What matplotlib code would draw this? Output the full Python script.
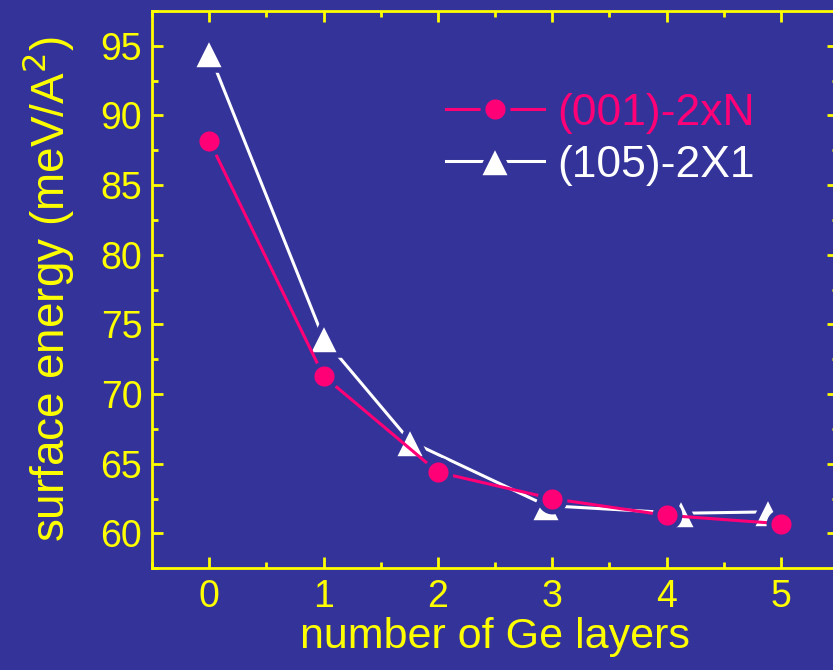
import matplotlib.pyplot as plt
from matplotlib.markers import MarkerStyle
from matplotlib.ticker import MultipleLocator

# surface energy vs. Ge coverage
x_001 = [0, 1, 2, 3, 4, 5]
e_001 = [88.2, 71.3, 64.4, 62.5, 61.3, 60.7]
x_105 = [0, 1, 1.76, 2.95, 4.13, 4.89]
e_105 = [94.5, 74.0, 66.6, 62.0, 61.45, 61.55]

bg = '#333399'
yellow = '#ffff00'
pink = '#ff0077'

plt.rcParams['font.family'] = ['Liberation Sans', 'DejaVu Sans']

fig = plt.figure(figsize=(8.33, 6.7), dpi=100, facecolor=bg)
ax = fig.add_axes([0.1825, 0.1518, 0.8235, 0.8318], facecolor=bg)

# background-coloured marker edges leave a small gap where the line meets the symbol
tri = MarkerStyle('^', joinstyle='round')
dot = MarkerStyle('o')
ax.plot(x_105, e_105, color='white', lw=2.2, marker=tri, ms=24, mfc='white',
        mec=bg, mew=4, label='(105)-2X1', zorder=3)
ax.plot(x_001, e_001, color=pink, lw=2.2, marker=dot, ms=18, mfc=pink,
        mec=bg, mew=3.5, label='(001)-2xN', zorder=4)

ax.set_xlim(-0.5, 5.5)
ax.set_ylim(57.5, 97.5)
ax.xaxis.set_major_locator(MultipleLocator(1))
ax.xaxis.set_minor_locator(MultipleLocator(0.5))
ax.yaxis.set_major_locator(MultipleLocator(5))
ax.yaxis.set_minor_locator(MultipleLocator(2.5))

for s in ax.spines.values():
    s.set_color(yellow)
    s.set_linewidth(2)
ax.tick_params(which='both', direction='in', top=True, right=True,
               color=yellow, width=2, labelcolor=yellow, labelsize=27)
ax.tick_params(which='major', length=8)
ax.tick_params(which='minor', length=4.5)
ax.tick_params(axis='y', pad=7)
ax.tick_params(axis='x', pad=8)

ax.set_xlabel('number of Ge layers', color=yellow, fontsize=31, labelpad=1)
ax.set_ylabel('surface energy (meV/A$^2$)', color=yellow, fontsize=33, labelpad=18)

handles, labels = ax.get_legend_handles_labels()
leg = ax.legend(handles[::-1], labels[::-1], loc='upper left', bbox_to_anchor=(0.37, 0.925),
                frameon=False, fontsize=32, numpoints=1, handlelength=2.2,
                handletextpad=0.3, labelspacing=0.25, labelcolor='linecolor')

fig.savefig('out.png', dpi=100, facecolor=bg)
